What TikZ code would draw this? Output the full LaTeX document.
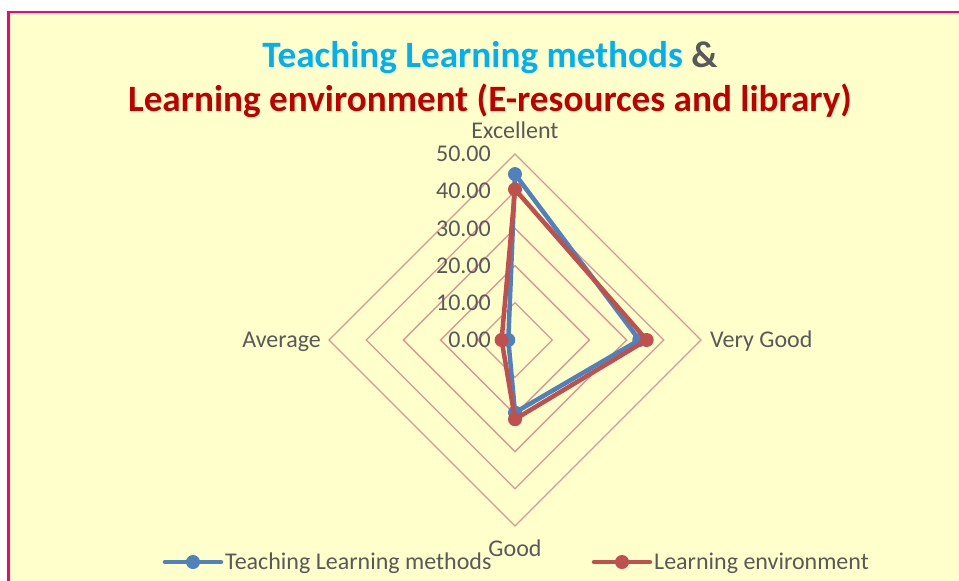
\documentclass[tikz,border=0pt]{standalone}
\usepackage{fontspec}
\setmainfont{Carlito}
\definecolor{bgy}{RGB}{255,255,204}
\definecolor{framec}{RGB}{255,0,102}
\definecolor{gridc}{RGB}{217,150,148}
\definecolor{serb}{RGB}{79,129,189}
\definecolor{serr}{RGB}{192,80,77}
\definecolor{titb}{RGB}{0,176,240}
\definecolor{titr}{RGB}{192,0,0}
\definecolor{txtg}{RGB}{89,89,89}
\tikzset{
  gridline/.style={draw=gridc, line width=1.3pt},
  bline/.style={draw=serb, line width=4.5pt, line join=round},
  rline/.style={draw=serr, line width=4.5pt, line join=round},
  bmark/.style={circle, fill=serb, inner sep=0pt, minimum size=14pt},
  rmark/.style={circle, fill=serr, inner sep=0pt, minimum size=14pt},
  lbl/.style={text=txtg, font=\fontsize{24}{28}\selectfont, inner sep=0pt},
  ttl/.style={font=\fontsize{37.2}{44}\selectfont\bfseries, inner sep=0pt},
}
\begin{document}
\begin{tikzpicture}[x=1pt,y=-1pt]
\useasboundingbox (0,0) rectangle (959,581);
\clip (0,0) rectangle (959,581);
\fill[white] (0,0) rectangle (959,581);
\fill[bgy] (8.5,12) rectangle (970,595);
\draw[framec, line width=2.4pt] (8.5,595) -- (8.5,12) -- (970,12);

% title
\node[ttl, anchor=base] (t1) at (490,67) {\textcolor{titb}{Teaching Learning methods} \textcolor{txtg}{\&}};
\node[ttl, anchor=base, text=titr] (t2) at (490,111) {Learning environment (E-resources and library)};

% grid
\foreach \r in {37.2,74.4,111.6,148.8,186}
  \draw[gridline] (515,340-\r) -- (515+\r,340) -- (515,340+\r) -- (515-\r,340) -- cycle;

% tick labels
\foreach \v/\t in {0/0.00,1/10.00,2/20.00,3/30.00,4/40.00,5/50.00}
  \node[lbl, anchor=east] (tick\v) at (491,340-\v*37.2) {\t};

% axis labels
\node[lbl, anchor=base] (axE) at (515,138) {Excellent};
\node[lbl, anchor=base west] (axV) at (710,347) {Very Good};
\node[lbl, anchor=base] (axG) at (515,556) {Good};
\node[lbl, anchor=base east] (axA) at (321,347) {Average};

% series: Teaching Learning methods
\coordinate (b1) at (515,340-44.6*3.72);
\coordinate (b2) at (515+33.4*3.72,340);
\coordinate (b3) at (515,340+19.5*3.72);
\coordinate (b4) at (515-1.8*3.72,340);
\draw[bline] (b1) -- (b2) -- (b3) -- (b4) -- cycle;
\foreach \p in {b1,b2,b3,b4} \node[bmark] at (\p) {};

% series: Learning environment
\coordinate (r1) at (515,340-40.5*3.72);
\coordinate (r2) at (515+35.4*3.72,340);
\coordinate (r3) at (515,340+21.3*3.72);
\coordinate (r4) at (515-3.6*3.72,340);
\draw[rline] (r1) -- (r2) -- (r3) -- (r4) -- cycle;
\foreach \p in {r1,r2,r3,r4} \node[rmark] at (\p) {};

% legend
\coordinate (lb1) at (165,562);
\coordinate (lb2) at (221,562);
\draw[bline, line cap=round] (lb1) -- (lb2);
\node[bmark] (lbm) at (193,562) {};
\node[lbl, anchor=base west] (lbt) at (225,569) {Teaching Learning methods};

\coordinate (lr1) at (594,562);
\coordinate (lr2) at (650,562);
\draw[rline, line cap=round] (lr1) -- (lr2);
\node[rmark] (lrm) at (622,562) {};
\node[lbl, anchor=base west] (lrt) at (654,569) {Learning environment};
\end{tikzpicture}
\end{document}
